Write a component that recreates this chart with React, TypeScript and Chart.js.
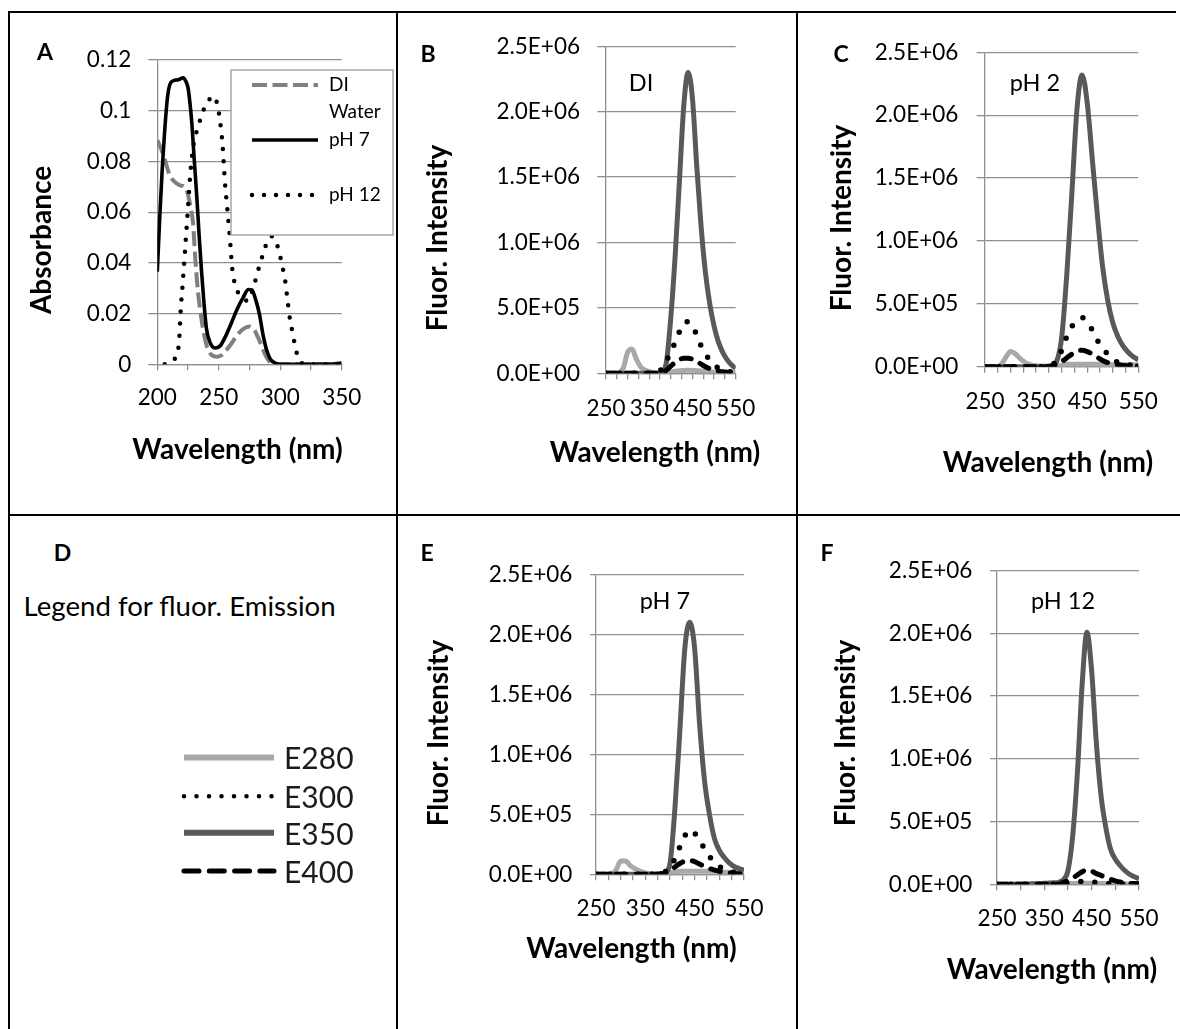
import React, { useEffect, useRef } from "react";
import { Chart, registerables } from "chart.js";

Chart.register(...registerables);

// ---------------- Panel A : absorbance ----------------
const A_SERIES_NAMES = ["DI Water", "pH 7", "pH 12"];
const A_DI_WL = [200, 205, 210, 215, 219, 222, 225, 227, 229, 231, 233, 235, 237, 240, 244, 248, 252, 256, 260, 265, 270, 275, 279, 282, 285, 288, 291, 295, 300, 310, 320, 330, 340, 350];
const A_DI_ABS = [0.0885, 0.0825, 0.0747, 0.0716, 0.0705, 0.07, 0.0668, 0.062, 0.056, 0.041, 0.029, 0.021, 0.0145, 0.0076, 0.0037, 0.003, 0.0035, 0.0055, 0.008, 0.0115, 0.014, 0.0149, 0.0135, 0.0105, 0.007, 0.0035, 0.0012, 0, 0, 0, 0, 0, 0, 0];
const A_PH7_WL = [200, 202, 204, 206, 208, 210, 213, 217, 221, 223, 225, 226, 228, 230, 232, 234, 236, 238, 240, 243, 247, 251, 255, 260, 265, 270, 274, 277, 280, 283, 286, 289, 292, 296, 300, 310, 320, 330, 340, 350];
const A_PH7_ABS = [0.0365, 0.058, 0.077, 0.092, 0.104, 0.11, 0.1118, 0.1122, 0.113, 0.1118, 0.109, 0.1055, 0.0957, 0.081, 0.067, 0.051, 0.0365, 0.024, 0.014, 0.0085, 0.0064, 0.0072, 0.0105, 0.016, 0.0218, 0.0265, 0.0295, 0.0293, 0.0255, 0.02, 0.0116, 0.0055, 0.002, 0.0005, 0, 0, 0, 0, 0, 0.0005];
const A_PH12_WL = [206, 210, 214, 217, 218, 219, 221, 223, 225, 227, 229, 231, 234, 237, 240, 243, 246, 249, 251, 253, 255, 257, 259, 261, 263, 266, 270, 274, 278, 282, 286, 290, 293, 296, 299, 302, 304, 306, 308, 310, 312, 314, 316, 320, 330, 340, 350];
const A_PH12_ABS = [0, 0.0005, 0.002, 0.006, 0.011, 0.021, 0.034, 0.048, 0.062, 0.076, 0.085, 0.09, 0.095, 0.0995, 0.103, 0.1048, 0.1058, 0.102, 0.096, 0.087, 0.072, 0.061, 0.05, 0.0375, 0.032, 0.028, 0.0258, 0.025, 0.03, 0.037, 0.0435, 0.049, 0.0505, 0.049, 0.0445, 0.038, 0.033, 0.025, 0.0175, 0.0125, 0.0075, 0.0035, 0.0013, 0, 0, 0, 0];
const A_Y_TICK_LABELS = ["0", "0.02", "0.04", "0.06", "0.08", "0.1", "0.12"];
const A_X_TICK_LABELS = ["200", "250", "300", "350"];

// ---------------- Fluorescence panels B, C, E, F ----------------
const FL_SERIES_NAMES = ["E280", "E300", "E350", "E400"];
const FL_WL = [250, 260, 270, 280, 290, 300, 310, 320, 330, 340, 350, 360, 370, 380, 390, 400, 410, 420, 430, 440, 450, 460, 470, 480, 490, 500, 510, 520, 530, 540, 550];

const B_E280 = [0, 0, 0, 5e3, 4e4, 1.6e5, 1.85e5, 1.1e5, 5e4, 2.5e4, 1.2e4, 5e3, 3e3, 3e3, 5e3, 1e4, 1.5e4, 2e4, 2.2e4, 2.3e4, 2.2e4, 2e4, 1.8e4, 1.5e4, 1.2e4, 1e4, 9e3, 8e3, 7e3, 6e3, 5e3];
const B_E300 = [0, 0, 0, 0, 0, 0, 0, 0, 0, 0, 0, 0, 5e3, 4e4, 1e5, 1.6e5, 2.4e5, 3.2e5, 3.85e5, 3.95e5, 3.65e5, 2.9e5, 2.1e5, 1.5e5, 1e5, 6.5e4, 4e4, 2.5e4, 1.5e4, 1e4, 5e3];
const B_E350 = [0, 0, 0, 0, 0, 0, 0, 0, 0, 0, 0, 0, 0, 1e4, 9e4, 4.3e5, 9e5, 1.48e6, 2.05e6, 2.3e6, 2.1e6, 1.58e6, 1.12e6, 7.7e5, 5.3e5, 3.6e5, 2.4e5, 1.6e5, 1.05e5, 6.5e4, 3.8e4];
const B_E400 = [0, 0, 0, 0, 0, 0, 0, 0, 0, 0, 0, 0, 0, 5e3, 2.5e4, 5.5e4, 8.5e4, 1.05e5, 1.15e5, 1.15e5, 1.08e5, 9.5e4, 7e4, 5e4, 3.5e4, 2.5e4, 1.8e4, 1.2e4, 9e3, 6e3, 4e3];

const C_E280 = [0, 0, 0, 1e4, 7e4, 1.2e5, 1e5, 6e4, 3e4, 1.5e4, 8e3, 5e3, 5e3, 5e3, 5e3, 1e4, 2e4, 2e4, 2e4, 2e4, 2e4, 2e4, 2e4, 1.5e4, 1.5e4, 1.5e4, 1.5e4, 1.5e4, 1.5e4, 1.5e4, 1.5e4];
const C_E300 = [0, 0, 0, 0, 0, 0, 0, 0, 0, 0, 0, 0, 0, 1e4, 5e4, 1.3e5, 2.4e5, 3.2e5, 3.7e5, 3.9e5, 3.6e5, 2.9e5, 2.1e5, 1.5e5, 1e5, 6e4, 3.5e4, 2.2e4, 1.5e4, 1e4, 6e3];
const C_E350 = [0, 0, 0, 0, 0, 0, 0, 0, 0, 0, 0, 0, 0, 5e3, 4e4, 2.3e5, 7.3e5, 1.38e6, 2.05e6, 2.32e6, 2.1e6, 1.65e6, 1.2e6, 8e5, 5.3e5, 3.5e5, 2.4e5, 1.65e5, 1.15e5, 8e4, 5.5e4];
const C_E400 = [0, 0, 0, 0, 0, 0, 0, 0, 0, 0, 0, 0, 0, 5e3, 1.5e4, 4e4, 7e4, 1e5, 1.25e5, 1.3e5, 1.2e5, 1e5, 7.5e4, 5e4, 3.3e4, 2.3e4, 1.5e4, 1e4, 8e3, 6e3, 5e3];

const E_E280 = [0, 0, 0, 5e3, 3e4, 1.1e5, 1.1e5, 7e4, 4.5e4, 2.5e4, 1.2e4, 6e3, 5e3, 5e3, 5e3, 1e4, 1.8e4, 2.5e4, 2.5e4, 2.5e4, 2.5e4, 2.5e4, 2.5e4, 2.5e4, 2.5e4, 2.5e4, 1.8e4, 1.8e4, 1.8e4, 1.8e4, 1.8e4];
const E_E300 = [0, 0, 0, 0, 0, 0, 0, 0, 0, 0, 0, 0, 0, 5e3, 2e4, 6e4, 1.3e5, 2.3e5, 3.2e5, 3.7e5, 3.4e5, 2.9e5, 2.1e5, 1.5e5, 1e5, 6.5e4, 4e4, 2.5e4, 1.5e4, 1e4, 6e3];
const E_E350 = [0, 0, 0, 0, 0, 0, 0, 0, 0, 0, 0, 0, 0, 3e3, 1.5e4, 9e4, 5.5e5, 1.2e6, 1.88e6, 2.1e6, 1.88e6, 1.25e6, 7.8e5, 5e5, 3e5, 2e5, 1.4e5, 9.5e4, 6.5e4, 4.8e4, 3.5e4];
const E_E400 = [0, 0, 0, 0, 0, 0, 0, 0, 0, 0, 0, 0, 0, 3e3, 1e4, 3e4, 6e4, 9e4, 1.1e5, 1.15e5, 1.05e5, 8.5e4, 6.5e4, 4.8e4, 3.5e4, 2.5e4, 1.7e4, 1.1e4, 8e3, 5e3, 4e3];

const F_E280 = [0, 0, 0, 0, 0, 0, 0, 0, 0, 0, 0, 0, 0, 0, 3e3, 5e3, 6e3, 7e3, 8e3, 8e3, 8e3, 7e3, 6e3, 5e3, 5e3, 4e3, 3e3, 3e3, 2e3, 2e3, 2e3];
const F_E300 = [0, 0, 0, 0, 0, 0, 0, 0, 0, 0, 0, 0, 0, 0, 5e3, 1e4, 1.5e4, 2e4, 2.2e4, 2.2e4, 2e4, 1.5e4, 1.2e4, 8e3, 6e3, 4e3, 3e3, 2e3, 2e3, 1e3, 1e3];
const F_E350 = [0, 0, 0, 0, 0, 0, 2e3, 3e3, 4e3, 5e3, 8e3, 1e4, 1.2e4, 1.6e4, 3.5e4, 1.1e5, 3.9e5, 9e5, 1.6e6, 2.01e6, 1.7e6, 1.12e6, 7e5, 4.5e5, 2.8e5, 2e5, 1.5e5, 1.1e5, 8e4, 6e4, 4.5e4];
const F_E400 = [0, 0, 0, 0, 0, 0, 0, 0, 0, 0, 0, 0, 0, 0, 1.5e4, 3e4, 5e4, 7.5e4, 1e5, 1.15e5, 1.05e5, 8.5e4, 7e4, 5.5e4, 4e4, 2.8e4, 1.8e4, 1.2e4, 8e3, 6e3, 5e3];

const FL_Y_TICK_LABELS = ["0.0E+00", "5.0E+05", "1.0E+06", "1.5E+06", "2.0E+06", "2.5E+06"];
const FL_X_TICK_LABELS = ["250", "350", "450", "550"];

const X_TITLE = "Wavelength (nm)";
const A_Y_TITLE = "Absorbance";
const FL_Y_TITLE = "Fluor. Intensity";
const D_TITLE = "Legend for fluor. Emission";

// ---------------- styles ----------------
const FONT = "Lato, 'Open Sans', 'DejaVu Sans', sans-serif";
const GRID = "#8f8f8f";
const TICK_SIZE = 22.5;
const TITLE_SIZE = 28;
const LETTER_SIZE = 23;
const INNER_SIZE = 23.5;
Chart.defaults.font.family = FONT;
Chart.defaults.color = "#000";

type Style = { color: string; width: number; dash: number[]; cap: CanvasLineCap };
const A_STYLES: Style[] = [
  { color: "#808080", width: 4, dash: [15, 5.5], cap: "butt" },
  { color: "#000000", width: 3.6, dash: [], cap: "butt" },
  { color: "#000000", width: 4.5, dash: [0, 12], cap: "round" },
];
const FL_STYLES: Style[] = [
  { color: "#a9a9a9", width: 5, dash: [], cap: "butt" },
  { color: "#000000", width: 5.5, dash: [0, 14], cap: "round" },
  { color: "#595959", width: 5, dash: [], cap: "butt" },
  { color: "#000000", width: 5, dash: [10, 10], cap: "round" },
];
const FL_ORDER = [3, 0, 2, 1];

type Box = { left: number; top: number; width: number; height: number };
type Area = { left: number; right: number; top: number; bottom: number };
type TextItem = { text: string; x: number; y: number; size: number; bold?: boolean; rotate?: boolean };

const CELL_A: Box = { left: 10, top: 13, width: 386, height: 501 };
const CELL_B: Box = { left: 398, top: 13, width: 398, height: 501 };
const CELL_C: Box = { left: 798, top: 13, width: 382, height: 501 };
const CELL_E: Box = { left: 398, top: 516, width: 398, height: 513 };
const CELL_F: Box = { left: 798, top: 516, width: 382, height: 513 };

function textPlugin(items: TextItem[], cell: Box) {
  return {
    id: "panelText",
    afterDraw(chart: any) {
      const ctx = chart.ctx as CanvasRenderingContext2D;
      ctx.save();
      ctx.fillStyle = "#000";
      ctx.textBaseline = "middle";
      ctx.textAlign = "center";
      for (const it of items) {
        ctx.font = `${it.bold ? "bold " : ""}${it.size}px ${FONT}`;
        const x = it.x - cell.left;
        const y = it.y - cell.top;
        if (it.rotate) {
          ctx.save();
          ctx.translate(x, y);
          ctx.rotate(-Math.PI / 2);
          ctx.fillText(it.text, 0, 0);
          ctx.restore();
        } else {
          ctx.fillText(it.text, x, y);
        }
      }
      ctx.restore();
    },
  };
}

const aLegendPlugin = {
  id: "aLegend",
  afterDatasetsDraw(chart: any) {
    const ctx = chart.ctx as CanvasRenderingContext2D;
    const ox = CELL_A.left;
    const oy = CELL_A.top;
    ctx.save();
    ctx.fillStyle = "#fff";
    ctx.fillRect(231 - ox, 70 - oy, 393 - 231, 235 - 70);
    ctx.strokeStyle = "#a6a6a6";
    ctx.lineWidth = 1.5;
    ctx.strokeRect(231 - ox, 70 - oy, 393 - 231, 235 - 70);
    const entryY = [85, 140, 195];
    ctx.font = `19px ${FONT}`;
    ctx.textBaseline = "middle";
    ctx.textAlign = "left";
    A_SERIES_NAMES.forEach((name, i) => {
      const st = A_STYLES[i];
      const y = entryY[i] - oy;
      ctx.beginPath();
      ctx.strokeStyle = st.color;
      ctx.lineWidth = st.width;
      ctx.lineCap = st.cap;
      ctx.setLineDash(st.dash);
      ctx.moveTo(252 - ox, y);
      ctx.lineTo(318 - ox, y);
      ctx.stroke();
      ctx.setLineDash([]);
      // simple word wrap inside the legend box
      const words = name.split(" ");
      const lines: string[] = [];
      let cur = "";
      for (const w of words) {
        const t = cur ? cur + " " + w : w;
        if (cur && ctx.measureText(t).width > 60) {
          lines.push(cur);
          cur = w;
        } else cur = t;
      }
      lines.push(cur);
      ctx.fillStyle = "#000";
      lines.forEach((ln, j) => ctx.fillText(ln, 329 - ox, y + j * 27));
    });
    ctx.restore();
  },
};

function makeDataset(label: string, xs: number[], ys: number[], st: Style, order: number) {
  return {
    label,
    data: xs.map((x, i) => ({ x, y: ys[i] })),
    borderColor: st.color,
    borderWidth: st.width,
    borderDash: st.dash,
    borderCapStyle: st.cap,
    borderJoinStyle: "round",
    cubicInterpolationMode: "monotone",
    pointRadius: 0,
    fill: false,
    order,
  };
}

type Spec = {
  cell: Box;
  area: Area;
  x: { min: number; max: number; step: number; labels: string[]; pad: number };
  y: { min: number; max: number; step: number; labels: string[]; pad: number; tick: number };
  datasets: any[];
  texts: TextItem[];
  extraPlugins?: any[];
};

function buildConfig(s: Spec) {
  const { cell, area } = s;
  const yWidth = area.left - cell.left;
  const xHeight = cell.top + cell.height - area.bottom;
  return {
    type: "line",
    data: { datasets: s.datasets },
    options: {
      responsive: false,
      maintainAspectRatio: false,
      animation: false,
      events: [],
      layout: {
        autoPadding: false,
        padding: { left: 0, top: area.top - cell.top, right: cell.left + cell.width - area.right, bottom: 0 },
      },
      plugins: { legend: { display: false }, tooltip: { enabled: false } },
      scales: {
        x: {
          type: "linear",
          min: s.x.min,
          max: s.x.max,
          ticks: {
            stepSize: s.x.step,
            autoSkip: false,
            maxRotation: 0,
            minRotation: 0,
            padding: s.x.pad,
            font: { size: TICK_SIZE },
            color: "#000",
            callback: (v: number) => (s.x.labels.includes(String(v)) ? String(v) : ""),
          },
          grid: { drawOnChartArea: false, drawTicks: true, tickLength: 6, color: GRID, lineWidth: 1.3 },
          border: { display: true, color: GRID, width: 1.3 },
          afterFit: (sc: any) => {
            sc.height = xHeight;
            sc.paddingLeft = 0;
            sc.paddingRight = 0;
          },
        },
        y: {
          type: "linear",
          min: s.y.min,
          max: s.y.max,
          ticks: {
            stepSize: s.y.step,
            padding: s.y.pad,
            font: { size: TICK_SIZE },
            color: "#000",
            callback: (_v: number, i: number) => s.y.labels[i] ?? "",
          },
          grid: { drawTicks: true, tickLength: s.y.tick, color: GRID, lineWidth: 1.3 },
          border: { display: true, color: GRID, width: 1.3 },
          afterFit: (sc: any) => {
            sc.width = yWidth;
            sc.paddingTop = 0;
            sc.paddingBottom = 0;
          },
        },
      },
    },
    plugins: [...(s.extraPlugins || []), textPlugin(s.texts, cell)],
  };
}

function flDatasets(series: number[][]) {
  return series.map((vals, i) => makeDataset(FL_SERIES_NAMES[i], FL_WL, vals, FL_STYLES[i], FL_ORDER[i]));
}

const SPEC_A: Spec = {
  cell: CELL_A,
  area: { left: 157.3, right: 341.7, top: 60, bottom: 364.3 },
  x: { min: 200, max: 350, step: 25, labels: A_X_TICK_LABELS, pad: 14 },
  y: { min: 0, max: 0.12, step: 0.02, labels: A_Y_TICK_LABELS, pad: 17, tick: 9 },
  datasets: [
    makeDataset(A_SERIES_NAMES[0], A_DI_WL, A_DI_ABS, A_STYLES[0], 2),
    makeDataset(A_SERIES_NAMES[1], A_PH7_WL, A_PH7_ABS, A_STYLES[1], 1),
    makeDataset(A_SERIES_NAMES[2], A_PH12_WL, A_PH12_ABS, A_STYLES[2], 0),
  ],
  texts: [
    { text: "A", x: 45, y: 53, size: LETTER_SIZE, bold: true },
    { text: A_Y_TITLE, x: 42, y: 240, size: TITLE_SIZE, bold: true, rotate: true },
    { text: X_TITLE, x: 237.5, y: 450, size: TITLE_SIZE, bold: true },
  ],
  extraPlugins: [aLegendPlugin],
};

const SPEC_B: Spec = {
  cell: CELL_B,
  area: { left: 606, right: 735.7, top: 46.3, bottom: 373.3 },
  x: { min: 250, max: 550, step: 25, labels: FL_X_TICK_LABELS, pad: 15.6 },
  y: { min: 0, max: 2.5e6, step: 5e5, labels: FL_Y_TICK_LABELS, pad: 17.3, tick: 8.7 },
  datasets: flDatasets([B_E280, B_E300, B_E350, B_E400]),
  texts: [
    { text: "B", x: 428, y: 55, size: LETTER_SIZE, bold: true },
    { text: "DI", x: 641, y: 83, size: INNER_SIZE },
    { text: FL_Y_TITLE, x: 438, y: 238, size: TITLE_SIZE, bold: true, rotate: true },
    { text: X_TITLE, x: 655, y: 453, size: TITLE_SIZE, bold: true },
  ],
};

const SPEC_C: Spec = {
  cell: CELL_C,
  area: { left: 985, right: 1138.3, top: 52.3, bottom: 366.7 },
  x: { min: 250, max: 550, step: 25, labels: FL_X_TICK_LABELS, pad: 15.6 },
  y: { min: 0, max: 2.5e6, step: 5e5, labels: FL_Y_TICK_LABELS, pad: 18.4, tick: 8.3 },
  datasets: flDatasets([C_E280, C_E300, C_E350, C_E400]),
  texts: [
    { text: "C", x: 841, y: 55, size: LETTER_SIZE, bold: true },
    { text: "pH 2", x: 1035, y: 83.3, size: INNER_SIZE },
    { text: FL_Y_TITLE, x: 842, y: 218, size: TITLE_SIZE, bold: true, rotate: true },
    { text: X_TITLE, x: 1048, y: 463, size: TITLE_SIZE, bold: true },
  ],
};

const SPEC_E: Spec = {
  cell: CELL_E,
  area: { left: 596, right: 744, top: 574.3, bottom: 874.3 },
  x: { min: 250, max: 550, step: 25, labels: FL_X_TICK_LABELS, pad: 14.5 },
  y: { min: 0, max: 2.5e6, step: 5e5, labels: FL_Y_TICK_LABELS, pad: 17.6, tick: 6 },
  datasets: flDatasets([E_E280, E_E300, E_E350, E_E400]),
  texts: [
    { text: "E", x: 427, y: 554, size: LETTER_SIZE, bold: true },
    { text: "pH 7", x: 665, y: 601.7, size: INNER_SIZE },
    { text: FL_Y_TITLE, x: 439, y: 733, size: TITLE_SIZE, bold: true, rotate: true },
    { text: X_TITLE, x: 631.5, y: 949, size: TITLE_SIZE, bold: true },
  ],
};

const SPEC_F: Spec = {
  cell: CELL_F,
  area: { left: 997, right: 1139, top: 570.7, bottom: 884.3 },
  x: { min: 250, max: 550, step: 50, labels: FL_X_TICK_LABELS, pad: 15.4 },
  y: { min: 0, max: 2.5e6, step: 5e5, labels: FL_Y_TICK_LABELS, pad: 17.6, tick: 7 },
  datasets: flDatasets([F_E280, F_E300, F_E350, F_E400]),
  texts: [
    { text: "F", x: 827, y: 554, size: LETTER_SIZE, bold: true },
    { text: "pH 12", x: 1063, y: 601.7, size: INNER_SIZE },
    { text: FL_Y_TITLE, x: 846, y: 733, size: TITLE_SIZE, bold: true, rotate: true },
    { text: X_TITLE, x: 1052, y: 970, size: TITLE_SIZE, bold: true },
  ],
};

function ChartPanel({ spec }: { spec: Spec }) {
  const ref = useRef<HTMLCanvasElement>(null);
  useEffect(() => {
    if (!ref.current) return;
    const chart = new Chart(ref.current, buildConfig(spec) as any);
    return () => chart.destroy();
  }, [spec]);
  const c = spec.cell;
  return (
    <canvas
      ref={ref}
      width={c.width}
      height={c.height}
      style={{ position: "absolute", left: c.left, top: c.top, width: c.width, height: c.height }}
    />
  );
}

function LegendPanelD() {
  const rowY = [757.4, 796.3, 832.8, 871];
  const sampleStyles = [
    { color: "#a9a9a9", width: 6, dash: "", cap: "butt" },
    { color: "#000000", width: 4.5, dash: "0 12.5", cap: "round" },
    { color: "#595959", width: 6, dash: "", cap: "butt" },
    { color: "#000000", width: 5, dash: "15 10.3", cap: "round" },
  ];
  return (
    <>
      <div style={{ position: "absolute", left: 62.5, top: 552, transform: "translate(-50%,-50%)", font: `bold ${LETTER_SIZE}px ${FONT}`, lineHeight: 1, color: "#000" }}>D</div>
      <div style={{ position: "absolute", left: 23.6, top: 606, transform: "translateY(-50%)", font: `27.6px ${FONT}`, lineHeight: 1, color: "#000", whiteSpace: "nowrap" }}>{D_TITLE}</div>
      <svg style={{ position: "absolute", left: 0, top: 0 }} width={396} height={1029}>
        {FL_SERIES_NAMES.map((n, i) => (
          <line
            key={n}
            x1={184}
            x2={274}
            y1={rowY[i]}
            y2={rowY[i]}
            stroke={sampleStyles[i].color}
            strokeWidth={sampleStyles[i].width}
            strokeDasharray={sampleStyles[i].dash || undefined}
            strokeLinecap={sampleStyles[i].cap as any}
          />
        ))}
      </svg>
      {FL_SERIES_NAMES.map((n, i) => (
        <div key={n} style={{ position: "absolute", left: 284, top: rowY[i], transform: "translateY(-50%)", font: `30px ${FONT}`, lineHeight: 1, color: "#1c1c1c" }}>{n}</div>
      ))}
    </>
  );
}

const rule = (left: number, top: number, width: number, height: number) => (
  <div style={{ position: "absolute", left, top, width, height, background: "#000" }} />
);

export default function App() {
  return (
    <div style={{ position: "absolute", left: 0, top: 0, width: 1180, height: 1029, overflow: "hidden", background: "#fff", fontFamily: FONT }}>
      <ChartPanel spec={SPEC_A} />
      <ChartPanel spec={SPEC_B} />
      <ChartPanel spec={SPEC_C} />
      <ChartPanel spec={SPEC_E} />
      <ChartPanel spec={SPEC_F} />
      <LegendPanelD />
      {rule(8, 11, 1168, 2)}
      {rule(8, 514, 1172, 2)}
      {rule(8, 11, 2, 1018)}
      {rule(396, 11, 2, 1018)}
      {rule(796, 11, 2, 1018)}
    </div>
  );
}
